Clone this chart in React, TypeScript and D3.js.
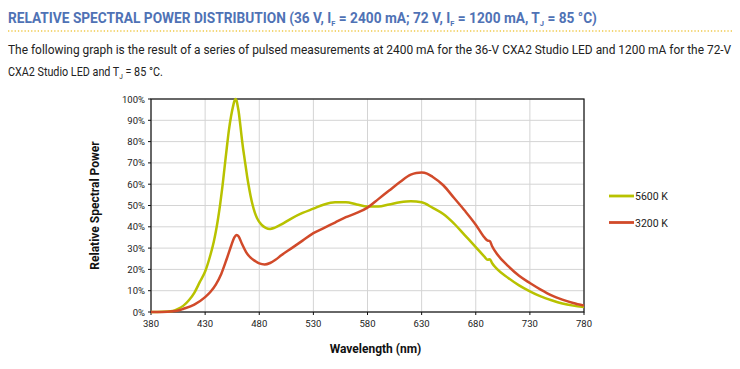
import React, { useLayoutEffect, useRef, useState } from "react";
import * as d3 from "d3";

const xTicks = [380, 430, 480, 530, 580, 630, 680, 730, 780];
const yTicks = [0, 10, 20, 30, 40, 50, 60, 70, 80, 90, 100];

const wl5600 = [380, 390, 400, 405, 410, 415, 420, 425, 430, 435, 438, 440, 442, 444, 446, 448, 450, 452, 454, 456, 457, 458, 459, 460, 461, 462, 463, 464, 465, 466, 467, 468, 469, 470, 472, 474, 476, 478, 482, 486, 490, 494, 500, 510, 520, 530, 540, 550, 560, 570, 580, 590, 600, 610, 620, 630, 640, 650, 660, 670, 680, 688, 691, 693, 695, 700, 710, 720, 730, 740, 750, 760, 770, 780];
const val5600 = [0, 0.1, 0.5, 1.5, 3, 5.5, 9, 14, 19, 27, 33, 38, 44, 51, 59, 68, 77, 85.5, 92, 97, 99, 100, 99.3, 97, 94, 90, 85.5, 81, 77, 73.5, 70, 66.5, 63, 60, 54.5, 50, 46.5, 44, 41, 39.5, 39, 39.5, 41, 44, 46.5, 48.5, 50.5, 51.5, 51.5, 50.5, 49.5, 49.5, 50.5, 51.5, 52, 51.5, 49, 46, 41.5, 36, 30.5, 26, 24.5, 24.8, 23, 20, 16, 12.5, 9.7, 7.3, 5.5, 4, 3, 2.3];

const wl3200 = [380, 390, 400, 405, 410, 420, 430, 435, 440, 445, 450, 454, 457, 459, 461, 464, 468, 472, 476, 480, 485, 490, 495, 500, 510, 520, 530, 540, 550, 560, 570, 580, 590, 600, 610, 620, 625, 630, 635, 640, 650, 660, 670, 680, 688, 691, 693, 695, 700, 710, 720, 730, 740, 750, 760, 770, 780];
const val3200 = [0, 0, 0.3, 0.7, 1.5, 3.5, 7, 9.5, 13, 18, 25, 31, 35, 36.2, 35.5, 32, 28, 25.5, 24, 22.8, 22.3, 23, 24.5, 26.5, 30, 33.5, 37, 39.5, 42, 44.5, 46.5, 49, 53, 57, 61, 64.5, 65.3, 65.5, 65, 63.5, 59.5, 53.5, 47.5, 41, 35, 33.5, 33.3, 31, 27, 21.5, 17, 13.6, 10.5, 7.8, 5.8, 4.2, 3];

const seriesNames = ["5600 K", "3200 K"];
const colors = ["#b8c200", "#d14a2a"];

function FitText({ x, y, width, children, ...rest }: any) {
  const ref = useRef<SVGTextElement>(null);
  const [s, setS] = useState(1);
  useLayoutEffect(() => {
    if (ref.current) {
      const w = ref.current.getBBox().width;
      if (w > 0) setS(width / w);
    }
  }, [width]);
  return (
    <g transform={`translate(${x},${y}) scale(${s},1)`}>
      <text ref={ref} x={0} y={0} {...rest}>{children}</text>
    </g>
  );
}

export default function App() {
  const W = 740, H = 369;
  const m = { left: 151, right: 584, top: 99, bottom: 312 };
  const x = d3.scaleLinear().domain([380, 780]).range([m.left, m.right]);
  const y = d3.scaleLinear().domain([0, 100]).range([m.bottom, m.top]);
  const line = d3.line<[number, number]>().x(d => x(d[0])).y(d => y(d[1])).curve(d3.curveMonotoneX);
  const s1 = wl5600.map((w, i) => [w, val5600[i]] as [number, number]);
  const s2 = wl3200.map((w, i) => [w, val3200[i]] as [number, number]);
  const font = "Roboto, 'Noto Sans', sans-serif";
  return (
    <svg width={W} height={H} style={{ position: "absolute", left: 0, top: 0, background: "#fff" }} fontFamily={font}>
      <FitText x={8} y={23} width={589} fontSize="14.5" fontWeight="bold" fill="#4f72b5">
        RELATIVE SPECTRAL POWER DISTRIBUTION (36 V, I<tspan fontSize="8" dy="3">F</tspan><tspan dy="-3"> = 2400 mA; 72 V, I</tspan><tspan fontSize="8" dy="3">F</tspan><tspan dy="-3"> = 1200 mA, T</tspan><tspan fontSize="8" dy="3">J</tspan><tspan dy="-3"> = 85 °C)</tspan>
      </FitText>
      <line x1={8} x2={732} y1={31} y2={31} stroke="#f0c94a" strokeWidth={1.3} strokeDasharray="1.3,2" />
      <FitText x={8} y={54} width={724} fontSize="12.5" fill="#222">
        The following graph is the result of a series of pulsed measurements at 2400 mA for the 36-V CXA2 Studio LED and 1200 mA for the 72-V
      </FitText>
      <FitText x={8} y={76} width={155} fontSize="12.5" fill="#222">
        CXA2 Studio LED and T<tspan fontSize="7.5" dy="3">J</tspan><tspan dy="-3"> = 85 °C.</tspan>
      </FitText>

      {yTicks.map(t => (
        <line key={"gy" + t} x1={m.left} x2={m.right} y1={y(t)} y2={y(t)} stroke="#d4d4d4" strokeWidth={1} />
      ))}
      {xTicks.map(t => (
        <line key={"gx" + t} x1={x(t)} x2={x(t)} y1={m.top} y2={m.bottom} stroke="#d4d4d4" strokeWidth={1} />
      ))}
      <rect x={m.left} y={m.top} width={m.right - m.left} height={m.bottom - m.top} fill="none" stroke="#111" strokeWidth={1.2} />
      {yTicks.map(t => (
        <g key={"ty" + t}>
          <line x1={m.left - 3} x2={m.left} y1={y(t)} y2={y(t)} stroke="#111" />
          <text x={m.left - 6} y={y(t) + 3.5} fontSize="9.5" textAnchor="end" fill="#222">{t}%</text>
        </g>
      ))}
      {xTicks.map(t => (
        <g key={"tx" + t}>
          <line x1={x(t)} x2={x(t)} y1={m.bottom} y2={m.bottom + 3} stroke="#111" />
          <text x={x(t)} y={m.bottom + 15} fontSize="9.5" textAnchor="middle" fill="#222">{t}</text>
        </g>
      ))}

      <path d={line(s1) || ""} fill="none" stroke={colors[0]} strokeWidth={2.5} strokeLinejoin="round" />
      <path d={line(s2) || ""} fill="none" stroke={colors[1]} strokeWidth={2.5} strokeLinejoin="round" />

      <text transform={`translate(99,${(m.top + m.bottom) / 2}) rotate(-90)`} fontSize="12" fontWeight="bold" textAnchor="middle" fill="#111">
        Relative Spectral Power
      </text>
      <text x={(m.left + m.right) / 2 + 8} y={353} fontSize="12" fontWeight="bold" textAnchor="middle" fill="#111">
        Wavelength (nm)
      </text>

      {seriesNames.map((n, i) => (
        <g key={n}>
          <line x1={609} x2={634} y1={196 + i * 26.5} y2={196 + i * 26.5} stroke={colors[i]} strokeWidth={2.8} />
          <text x={635} y={196 + i * 26.5 + 4} fontSize="10.5" fill="#222">{n}</text>
        </g>
      ))}
    </svg>
  );
}
